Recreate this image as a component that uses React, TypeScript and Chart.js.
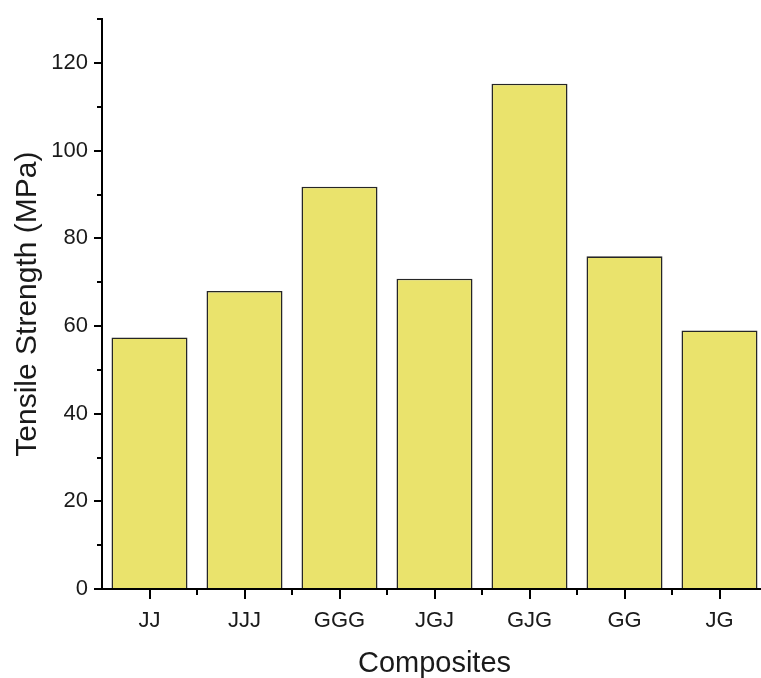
import React, { useEffect, useRef } from "react";
import { Chart, registerables } from "chart.js";

Chart.register(...registerables);

const categories = ["JJ", "JJJ", "GGG", "JGJ", "GJG", "GG", "JG"];
const tensileStrength = [57.4, 68.0, 91.8, 70.8, 115.3, 75.9, 59.0];
const yMajorTicks = [0, 20, 40, 60, 80, 100, 120];
const yMinorTicks = [10, 30, 50, 70, 90, 110, 130];

const FONT = "'Liberation Sans', Arial, sans-serif";

// Short tick marks between the labelled ones on both axes
const minorTicksPlugin = {
  id: "minorTicks",
  afterDraw(chart: any) {
    const { ctx, scales } = chart;
    const x = scales.x;
    const y = scales.y;
    const left = chart.chartArea.left;
    const bottom = chart.chartArea.bottom;
    ctx.save();
    ctx.strokeStyle = "#000";
    ctx.lineWidth = 2;
    ctx.beginPath();
    yMinorTicks.forEach((v) => {
      const py = Math.round(y.getPixelForValue(v));
      ctx.moveTo(left - 5, py);
      ctx.lineTo(left, py);
    });
    for (let i = 0; i < categories.length; i++) {
      const a = x.getPixelForValue(i);
      const b = i + 1 < categories.length ? x.getPixelForValue(i + 1) : a + (a - x.getPixelForValue(i - 1));
      const px = Math.round((a + b) / 2);
      ctx.moveTo(px, bottom);
      ctx.lineTo(px, bottom + 6);
    }
    ctx.stroke();
    ctx.restore();
  },
};

export default function App() {
  const canvasRef = useRef<HTMLCanvasElement | null>(null);

  useEffect(() => {
    if (!canvasRef.current) return;
    const chart = new Chart(canvasRef.current, {
      type: "bar",
      data: {
        labels: categories,
        datasets: [
          {
            data: tensileStrength,
            backgroundColor: "rgb(234, 227, 108)",
            borderColor: "#262626",
            borderWidth: 1.6,
            barPercentage: 0.8,
            categoryPercentage: 1,
          },
        ],
      },
      options: {
        animation: false,
        responsive: true,
        maintainAspectRatio: false,
        layout: { padding: { top: 15, right: 3, left: 0, bottom: 0 } },
        plugins: {
          legend: { display: false },
          tooltip: { enabled: false },
        },
        scales: {
          x: {
            offset: true,
            grid: {
              offset: false,
              drawOnChartArea: false,
              drawTicks: true,
              tickLength: 10,
              color: "#000",
              lineWidth: 2,
            },
            border: { display: true, color: "#000", width: 2 },
            ticks: {
              color: "#1a1a1a",
              font: { family: FONT, size: 22 },
              padding: 9,
              maxRotation: 0,
            },
            title: {
              display: true,
              text: "Composites",
              color: "#1a1a1a",
              font: { family: FONT, size: 29, lineHeight: 1 },
              padding: { top: 0, bottom: 0 },
            },
            afterFit(scale: any) {
              scale.height = 89;
            },
          },
          y: {
            min: 0,
            max: 130,
            ticks: {
              stepSize: 20,
              color: "#1a1a1a",
              font: { family: FONT, size: 22 },
              padding: 6,
            },
            afterBuildTicks(scale: any) {
              scale.ticks = yMajorTicks.map((v) => ({ value: v }));
            },
            grid: {
              drawOnChartArea: false,
              drawTicks: true,
              tickLength: 8,
              color: "#000",
              lineWidth: 2,
            },
            border: { display: true, color: "#000", width: 2 },
            title: {
              display: true,
              text: "Tensile Strength (MPa)",
              color: "#1a1a1a",
              font: { family: FONT, size: 30, lineHeight: 1 },
              padding: { top: 13, bottom: 0 },
            },
            afterFit(scale: any) {
              scale.width = 102;
            },
          },
        },
      },
      plugins: [minorTicksPlugin],
    });
    return () => chart.destroy();
  }, []);

  return (
    <div
      style={{
        position: "absolute",
        left: 0,
        top: 0,
        width: 761,
        height: 678,
        overflow: "hidden",
        background: "#fff",
      }}
    >
      <div style={{ position: "relative", width: 770, height: 678 }}>
        <canvas ref={canvasRef} />
      </div>
    </div>
  );
}
